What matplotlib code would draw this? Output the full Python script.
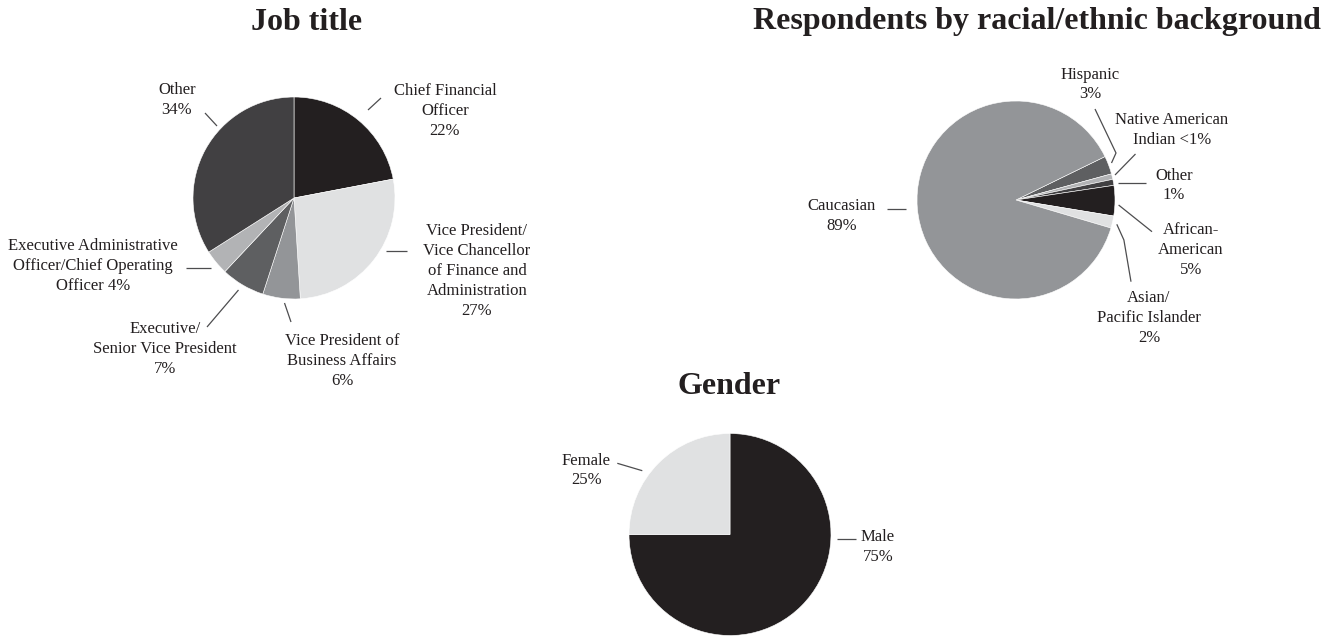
import matplotlib
matplotlib.use("Agg")
import matplotlib.pyplot as plt

W, H = 1333, 637

# ---------------- data ----------------
job_title = "Job title"
job_labels = ["Chief Financial\nOfficer\n22%",
              "Vice President/\nVice Chancellor\nof Finance and\nAdministration\n27%",
              "Vice President of\nBusiness Affairs\n6%",
              "Executive/\nSenior Vice President\n7%",
              "Executive Administrative\nOfficer/Chief Operating\nOfficer 4%",
              "Other\n34%"]
job_values = [22, 27, 6, 7, 4, 34]

race_title = "Respondents by racial/ethnic background"
race_labels = ["Hispanic\n3%",
               "Native American\nIndian <1%",
               "Other\n1%",
               "African-\nAmerican\n5%",
               "Asian/\nPacific Islander\n2%",
               "Caucasian\n89%"]
race_values = [3, 0.9, 1, 5, 2, 89]

gender_title = "Gender"
gender_labels = ["Male\n75%", "Female\n25%"]
gender_values = [75, 25]

# ---------------- styles ----------------
BLACK = "#231f20"
DARK = "#414042"
DARKMID = "#5e5f61"
MID = "#939598"
LIGHTMID = "#b2b3b5"
LIGHT = "#e0e1e2"

job_colors = [BLACK, LIGHT, MID, DARKMID, LIGHTMID, DARK]
race_colors = [DARKMID, LIGHTMID, DARK, BLACK, LIGHT, MID]
gender_colors = [BLACK, LIGHT]

# layout in pixel coordinates (x right, y down)
job_pie = dict(center=(294, 198), radius=101, start=90)
race_pie = dict(center=(1016, 200), radius=99, start=26)
gender_pie = dict(center=(730, 534.5), radius=101, start=90)

job_text_pos = [(445, 111), (477, 271), (342, 361), (165, 349), (93, 266), (177, 100)]
job_leaders = [[(368, 110), (381, 98)],
               [(386, 251), (407, 251)],
               [(284.5, 303), (291, 322)],
               [(207, 327), (238.5, 290)],
               [(185.5, 268), (210.5, 268)],
               [(205, 113), (217, 126)]]

race_text_pos = [(1090, 84.5), (1172, 130), (1174, 185.5), (1191, 250), (1149, 318), (842, 216)]
race_leaders = [[(1095, 109), (1116, 153), (1111.5, 163)],
                [(1115, 175), (1135.5, 154)],
                [(1118, 182.7), (1145.7, 182.7)],
                [(1118.6, 205), (1152, 231.7)],
                [(1116.8, 224.3), (1123.9, 240), (1131, 281.7)],
                [(887, 209), (906, 209)]]

gender_text_pos = [(878, 547), (586.5, 470.5)]
gender_leaders = [[(836.7, 539.3), (856, 539.3)],
                  [(617.3, 463.3), (642.3, 470.7)]]

title_pos = {job_title: (307, 22), race_title: (1037, 21), gender_title: (729, 386)}

SERIF = ["Liberation Serif", "DejaVu Serif"]


def Y(y):
    return H - y


fig = plt.figure(figsize=(W / 100, H / 100), dpi=100)
ax = fig.add_axes([0, 0, 1, 1])


def draw_pie(values, colors, pie, labels, text_pos, leaders):
    cx, cy = pie["center"]
    ax.pie(values, colors=colors, startangle=pie["start"], counterclock=False,
           center=(cx, Y(cy)), radius=pie["radius"], frame=True,
           wedgeprops=dict(edgecolor="white", linewidth=0.4))
    for lab, (tx, ty), pts in zip(labels, text_pos, leaders):
        ax.text(tx, Y(ty), lab, ha="center", va="center", multialignment="center",
                fontsize=12, family=SERIF, color=BLACK, linespacing=1.33)
        ax.plot([p[0] for p in pts], [Y(p[1]) for p in pts], color="#4d4d4f",
                lw=0.9, solid_capstyle="butt")


draw_pie(job_values, job_colors, job_pie, job_labels, job_text_pos, job_leaders)
draw_pie(race_values, race_colors, race_pie, race_labels, race_text_pos, race_leaders)
draw_pie(gender_values, gender_colors, gender_pie, gender_labels, gender_text_pos, gender_leaders)

for t, (tx, ty) in title_pos.items():
    ax.text(tx, Y(ty), t, ha="center", va="center", fontsize=23,
            fontweight="bold", family=SERIF, color=BLACK)

ax.set_xlim(0, W)
ax.set_ylim(0, H)
ax.set_aspect("auto")
ax.axis("off")

fig.savefig("out.png", dpi=100, facecolor="white")
